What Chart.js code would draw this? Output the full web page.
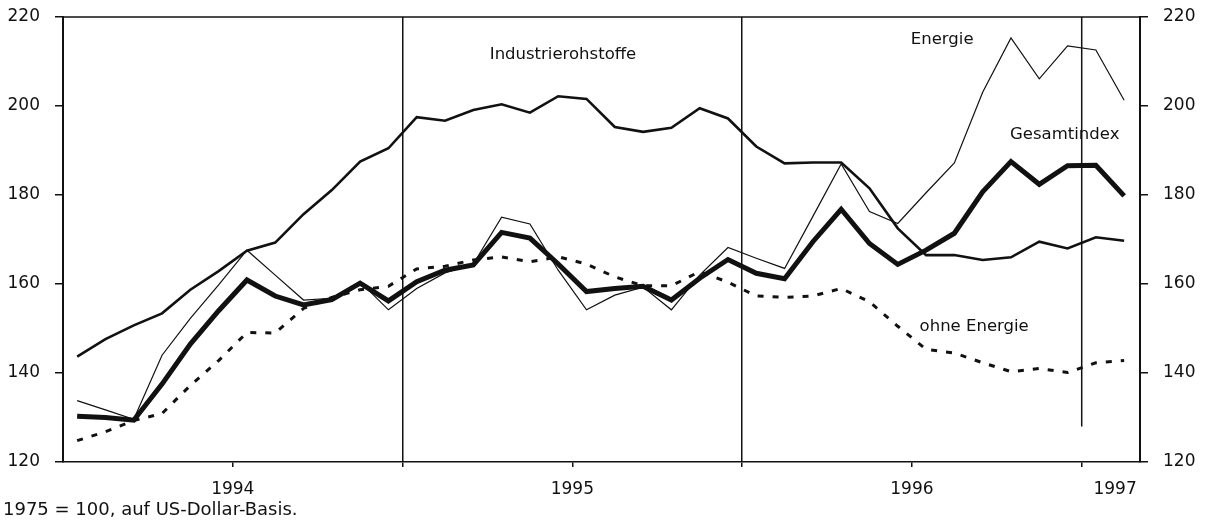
<!DOCTYPE html>
<html lang="de">
<head>
<meta charset="utf-8">
<title>Rohstoffpreise</title>
<script src="https://cdn.jsdelivr.net/npm/chart.js@4.4.1/dist/chart.umd.min.js"></script>
<style>
  html, body { margin: 0; padding: 0; background: #fff; }
  #wrap { position: relative; width: 1205px; height: 523px; }
  #note { position: absolute; left: 3px; top: 500px; font: 18px/18px "DejaVu Sans", sans-serif; color: #111; white-space: nowrap; }
</style>
</head>
<body>
<div id="wrap">
  <canvas id="chart"></canvas>
  <div id="note">1975 = 100, auf US-Dollar-Basis.</div>
</div>
<script>
// Monthly values, Jan 1994 - Feb 1997 (1975 = 100, US-Dollar)
const months = [
    '1994-01', '1994-02', '1994-03', '1994-04', '1994-05', '1994-06',
    '1994-07', '1994-08', '1994-09', '1994-10', '1994-11', '1994-12',
    '1995-01', '1995-02', '1995-03', '1995-04', '1995-05', '1995-06',
    '1995-07', '1995-08', '1995-09', '1995-10', '1995-11', '1995-12',
    '1996-01', '1996-02', '1996-03', '1996-04', '1996-05', '1996-06',
    '1996-07', '1996-08', '1996-09', '1996-10', '1996-11', '1996-12',
    '1997-01', '1997-02'
];

const gesamtindex = [
    130.3, 130.0, 129.4, 137.5, 146.5, 154.0, 160.9, 157.3, 155.3, 156.5, 160.2, 156.2,
    160.5, 163.1, 164.3, 171.6, 170.3, 164.5, 158.3, 159.0, 159.5, 156.4, 161.3, 165.5,
    162.4, 161.2, 169.5, 176.8, 169.1, 164.4, 167.6, 171.4, 180.7, 187.5, 182.4, 186.6,
    186.7, 179.8
];

const energie = [
    133.8, 131.7, 129.6, 144.0, 152.3, 159.8, 167.6, 162.0, 156.4, 156.8, 160.5, 154.2,
    159.0, 162.5, 164.5, 175.0, 173.5, 163.1, 154.2, 157.5, 159.3, 154.2, 162.0, 168.2,
    165.8, 163.5, 175.2, 187.0, 176.3, 173.6, 180.5, 187.2, 203.1, 215.3, 206.1, 213.5,
    212.6, 201.3
];

const industrie = [
    143.7, 147.6, 150.7, 153.4, 158.7, 162.9, 167.5, 169.3, 175.7, 181.1, 187.5, 190.5,
    197.5, 196.7, 199.1, 200.4, 198.5, 202.2, 201.6, 195.3, 194.2, 195.1, 199.5, 197.2,
    190.9, 187.1, 187.3, 187.3, 181.5, 172.5, 166.5, 166.5, 165.4, 166.0, 169.5, 168.0,
    170.5, 169.7
];

const ohneEnergie = [
    124.8, 126.8, 129.3, 130.9, 137.2, 142.8, 149.1, 149.0, 154.5, 157.0, 158.7, 159.5,
    163.4, 164.0, 165.4, 166.1, 165.0, 166.1, 164.5, 161.6, 159.6, 159.6, 162.8, 160.4,
    157.3, 157.0, 157.3, 159.0, 156.0, 150.5, 145.3, 144.5, 142.3, 140.3, 141.0, 140.1,
    142.3, 142.8
];

// Axis labels
const yearLabels = ['1994', '1995', '1996', '1997'];
const yearLabelPos = [5.5, 17.5, 29.5, 36.68];
const yearBounds = [11.5, 23.5, 35.5];
const yTicks = [120, 140, 160, 180, 200, 220];

// Series names written into the plot (month index, value)
const seriesNames = ['Industrierohstoffe', 'Energie', 'Gesamtindex', 'ohne Energie'];
const namePos = [[17.17, 211.5], [30.57, 214.8], [34.9, 193.5], [31.7, 150.3]];

// Marker line at the turn of the year 1996/97
const cutLine = { at: 35.5, from: 128, to: 220 };

const ink = '#111';
const fontFamily = '"DejaVu Sans", sans-serif';

function toPoints(values) {
    return months.map((m, i) => ({ x: i, y: values[i] }));
}

function yearTickLabel(value) {
    const i = yearLabelPos.indexOf(value);
    return i >= 0 ? yearLabels[i] : '';
}

// Frame top line and series names
const decorations = {
    id: 'decorations',
    afterDatasetsDraw(chart) {
        const { ctx, chartArea, scales } = chart;
        ctx.save();
        ctx.strokeStyle = ink;
        ctx.lineWidth = 1.5;
        ctx.beginPath();
        ctx.moveTo(chartArea.left, chartArea.top);
        ctx.lineTo(chartArea.right, chartArea.top);
        ctx.stroke();

        ctx.fillStyle = ink;
        ctx.font = '16.5px ' + fontFamily;
        ctx.textAlign = 'center';
        ctx.textBaseline = 'middle';
        seriesNames.forEach((name, i) => {
            ctx.fillText(name, scales.x.getPixelForValue(namePos[i][0]), scales.y.getPixelForValue(namePos[i][1]));
        });
        ctx.restore();
    }
};

function yAxis(position, width) {
    return {
        type: 'linear',
        position: position,
        min: 120,
        max: 220,
        afterBuildTicks: axis => { axis.ticks = yTicks.map(v => ({ value: v })); },
        afterFit: axis => {
            axis.width = width;
            axis.paddingTop = 0;
            axis.paddingBottom = 0;
        },
        ticks: {
            color: ink,
            padding: 15,
            font: { family: fontFamily, size: 17 }
        },
        grid: {
            drawOnChartArea: false,
            tickLength: 8,
            color: ink,
            lineWidth: 1.5
        },
        border: { color: ink, width: 2 }
    };
}

const ctx = document.getElementById('chart').getContext('2d');

new Chart(ctx, {
    type: 'line',
    data: {
        datasets: [
            {
                label: 'Gesamtindex',
                data: toPoints(gesamtindex),
                borderColor: ink,
                borderWidth: 5
            },
            {
                label: 'Industrierohstoffe',
                data: toPoints(industrie),
                borderColor: ink,
                borderWidth: 2.6
            },
            {
                label: 'Energie',
                data: toPoints(energie),
                borderColor: ink,
                borderWidth: 1.2
            },
            {
                label: 'ohne Energie',
                data: toPoints(ohneEnergie),
                borderColor: ink,
                borderWidth: 3,
                borderDash: [6, 9]
            },
            {
                label: 'Jahreswechsel 1996/97',
                data: [{ x: cutLine.at, y: cutLine.from }, { x: cutLine.at, y: cutLine.to }],
                borderColor: ink,
                borderWidth: 1.5
            }
        ]
    },
    options: {
        responsive: true,
        maintainAspectRatio: false,
        animation: false,
        layout: { padding: { top: 17, left: 0, right: 0, bottom: 0 } },
        elements: {
            point: { radius: 0 },
            line: { tension: 0, fill: false }
        },
        plugins: {
            legend: { display: false },
            tooltip: { enabled: false }
        },
        scales: {
            x: {
                type: 'linear',
                min: -0.5,
                max: 37.56,
                afterBuildTicks: axis => {
                    axis.ticks = yearLabelPos.concat(yearBounds)
                        .sort((a, b) => a - b)
                        .map(v => ({ value: v }));
                },
                afterFit: axis => {
                    axis.height = 61;
                    axis.paddingLeft = 0;
                    axis.paddingRight = 0;
                },
                ticks: {
                    autoSkip: false,
                    maxRotation: 0,
                    padding: 12,
                    color: ink,
                    font: { family: fontFamily, size: 17 },
                    callback: value => yearTickLabel(value)
                },
                grid: {
                    drawOnChartArea: true,
                    tickLength: 5,
                    lineWidth: 1.5,
                    tickWidth: 1.5,
                    color: c => (c.tick && yearBounds.slice(0, 2).includes(c.tick.value)) ? ink : 'rgba(0,0,0,0)',
                    tickColor: c => (c.tick && c.tick.value === yearLabelPos[3]) ? 'rgba(0,0,0,0)' : ink
                },
                border: { color: ink, width: 1.5 }
            },
            y: yAxis('left', 63),
            y2: yAxis('right', 65)
        }
    },
    plugins: [decorations]
});
</script>
</body>
</html>
